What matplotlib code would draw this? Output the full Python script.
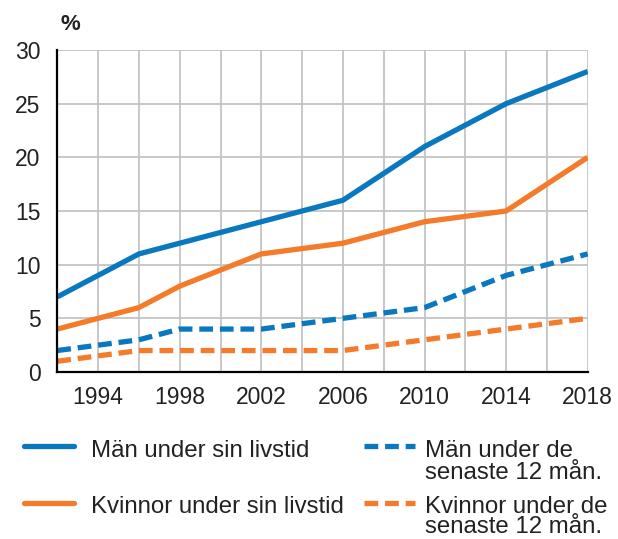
import matplotlib
matplotlib.use('Agg')
import matplotlib.pyplot as plt
from matplotlib.lines import Line2D

plt.rcParams['font.family'] = ['Liberation Sans', 'DejaVu Sans']

years = [1992, 1996, 1998, 2002, 2006, 2010, 2014, 2018]
man_livstid = [7, 11, 12, 14, 16, 21, 25, 28]
kvinna_livstid = [4, 6, 8, 11, 12, 14, 15, 20]
man_12man = [2, 3, 4, 4, 5, 6, 9, 11]
kvinna_12man = [1, 2, 2, 2, 2, 3, 4, 5]

labels = ['Män under sin livstid', 'Män under de\nsenaste 12 mån.',
          'Kvinnor under sin livstid', 'Kvinnor under de\nsenaste 12 mån.']
blue = '#0a78bf'
orange = '#f47b2a'
dash = (0, (2.6, 1.3))
lw = 3.8

W, H = 618, 539
fig = plt.figure(figsize=(W / 100, H / 100), dpi=100)
ax = fig.add_axes([57.3 / W, (H - 372) / H, 530.4 / W, 322 / H])

ax.plot(years, man_livstid, color=blue, lw=lw, solid_capstyle='butt')
ax.plot(years, kvinna_livstid, color=orange, lw=lw, solid_capstyle='butt')
ax.plot(years, man_12man, color=blue, lw=lw, ls=dash)
ax.plot(years, kvinna_12man, color=orange, lw=lw, ls=dash)

ax.set_xlim(1992, 2018)
ax.set_ylim(0, 30)
ax.set_xticks(range(1994, 2019, 4))
ax.set_xticks(range(1992, 2019, 2), minor=True)
ax.set_yticks(range(0, 31, 5))
ax.grid(True, which='both', color='#c4c4c4', lw=1.3)
ax.set_axisbelow(True)
ax.tick_params(which='both', length=0, labelsize=16.5, colors='#222222')
ax.tick_params(axis='x', pad=10)
ax.tick_params(axis='y', pad=12)
for s in ['top', 'right']:
    ax.spines[s].set_visible(False)
for s in ['left', 'bottom']:
    ax.spines[s].set_color('black')
    ax.spines[s].set_linewidth(1.6)
    ax.spines[s].set_zorder(5)

fig.text(61 / W, (H - 24) / H, '%', fontsize=16, fontweight='bold',
         ha='left', va='center', color='#222222')

# legend drawn by hand: two columns, solid left, dashed right
def fy(py):
    return (H - py) / H

items = [
    (blue, '-', 24, 74, 446, 91, [457], labels[0]),
    (orange, '-', 24, 74, 503, 91, [513], labels[2]),
    (blue, dash, 364, 415, 446, 425, [457, 479], labels[1]),
    (orange, dash, 364, 415, 503, 425, [513, 533], labels[3]),
]
for color, ls, x0, x1, ly, tx, baselines, text in items:
    fig.add_artist(Line2D([x0 / W, x1 / W], [fy(ly), fy(ly)], color=color, lw=lw,
                          ls=ls, solid_capstyle='round', transform=fig.transFigure))
    for line, by in zip(text.split('\n'), baselines):
        fig.text(tx / W, fy(by), line, fontsize=17.3, ha='left', va='baseline',
                 color='#222222')

fig.savefig('out.png', dpi=100)
